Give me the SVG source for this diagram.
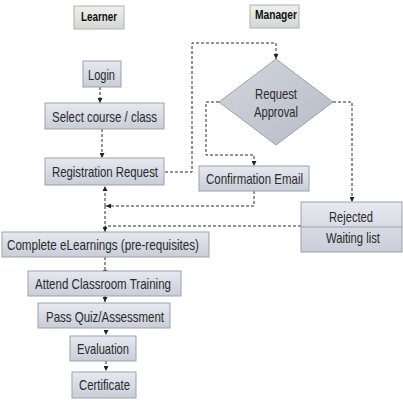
<svg xmlns="http://www.w3.org/2000/svg" width="403" height="403" viewBox="0 0 403 403">
<defs>
<linearGradient id="g" x1="0" y1="0" x2="0" y2="1">
<stop offset="0" stop-color="#e6e9ef"/>
<stop offset="1" stop-color="#c9cdd7"/>
</linearGradient>
<linearGradient id="gl" x1="0" y1="0" x2="0" y2="1">
<stop offset="0" stop-color="#eef0ee"/>
<stop offset="1" stop-color="#d3d7d3"/>
</linearGradient>
<linearGradient id="gd" x1="0" y1="0" x2="1" y2="1">
<stop offset="0" stop-color="#d2d6de"/>
<stop offset="1" stop-color="#b6bbc6"/>
</linearGradient>
<marker id="a" viewBox="0 0 6 6" refX="6" refY="3" markerWidth="5" markerHeight="5" orient="auto" markerUnits="userSpaceOnUse">
<path d="M0,0 L6,3 L0,6 Z" fill="#222"/>
</marker>
<style>
.b{fill:url(#g);stroke:#9ca1ad;stroke-width:1}
.l{fill:url(#gl);stroke:#aeb2ae;stroke-width:1}
.t{font-family:"Liberation Sans Narrow","Liberation Sans",Arial,sans-serif;font-size:15px;fill:#2a2a2a}
.h{font-family:"Liberation Sans Narrow","Liberation Sans",Arial,sans-serif;font-size:12.5px;font-weight:bold;fill:#111}
.c{fill:none;stroke:#2a2a2a;stroke-width:1;stroke-dasharray:3,2}
</style>
</defs>
<g id="connectors">
<path class="c" d="M100,87 V103" marker-end="url(#a)"/>
<path class="c" d="M102,129 V158" marker-end="url(#a)"/>
<path class="c" d="M165,172 H192 V43 H276 V59" marker-end="url(#a)"/>
<path class="c" d="M219,102 H206 V155 H254 V166" marker-end="url(#a)"/>
<path class="c" d="M333,102 H352 V202" marker-end="url(#a)"/>
<path class="c" d="M254,191 V206 H106" marker-end="url(#a)"/>
<path class="c" d="M301,226 H105"/>
<path class="c" d="M105,206 V186" marker-end="url(#a)"/>
<path class="c" d="M105,206 V232" marker-end="url(#a)"/>
<path class="c" d="M105,257 V275" marker-end="url(#a)"/>
<path class="c" d="M105,275 V302" marker-end="url(#a)"/>
<path class="c" d="M106,320 V335" marker-end="url(#a)"/>
<path class="c" d="M106,361 V371" marker-end="url(#a)"/>
</g>
<g id="learner"><rect class="l" x="74" y="6" width="50" height="23"/><text class="h" x="81" y="21" textLength="36" lengthAdjust="spacingAndGlyphs">Learner</text></g>
<g id="manager"><rect class="l" x="250" y="5" width="49" height="23"/><text class="h" x="255" y="19" textLength="42" lengthAdjust="spacingAndGlyphs">Manager</text></g>
<g id="login"><rect class="b" x="83" y="61" width="38" height="26"/><text class="t" x="88" y="80" textLength="27" lengthAdjust="spacingAndGlyphs">Login</text></g>
<g id="select"><rect class="b" x="45" y="103" width="119" height="26"/><text class="t" x="52" y="122" textLength="105" lengthAdjust="spacingAndGlyphs">Select course / class</text></g>
<g id="approval"><polygon points="276,59 333,102 276,145 219,102" fill="url(#gd)" stroke="#9ca1ad"/><text class="t" x="255" y="99" textLength="42" lengthAdjust="spacingAndGlyphs">Request</text><text class="t" x="254" y="117" textLength="44" lengthAdjust="spacingAndGlyphs">Approval</text></g>
<g id="registration"><rect class="b" x="45" y="158" width="119" height="27"/><text class="t" x="52" y="177" textLength="106" lengthAdjust="spacingAndGlyphs">Registration Request</text></g>
<g id="confirmation"><rect class="b" x="199" y="166" width="110" height="25"/><text class="t" x="206" y="184" textLength="97" lengthAdjust="spacingAndGlyphs">Confirmation Email</text></g>
<g id="rejected"><rect class="b" x="301" y="202" width="101" height="50"/><line x1="301" y1="227" x2="402" y2="227" stroke="#9ca1ad"/><text class="t" x="329" y="222" textLength="44" lengthAdjust="spacingAndGlyphs">Rejected</text><text class="t" x="326" y="243" textLength="54" lengthAdjust="spacingAndGlyphs">Waiting list</text></g>
<g id="elearnings"><rect class="b" x="2" y="232" width="207" height="25"/><text class="t" x="7" y="250" textLength="192" lengthAdjust="spacingAndGlyphs">Complete eLearnings (pre-requisites)</text></g>
<g id="classroom"><rect class="b" x="28" y="271" width="153" height="25"/><text class="t" x="35" y="289" textLength="136" lengthAdjust="spacingAndGlyphs">Attend Classroom Training</text></g>
<g id="quiz"><rect class="b" x="38" y="303" width="132" height="25"/><text class="t" x="46" y="322" textLength="118" lengthAdjust="spacingAndGlyphs">Pass Quiz/Assessment</text></g>
<g id="evaluation"><rect class="b" x="70" y="336" width="66" height="25"/><text class="t" x="77" y="354" textLength="52" lengthAdjust="spacingAndGlyphs">Evaluation</text></g>
<g id="certificate"><rect class="b" x="72" y="372" width="64" height="26"/><text class="t" x="79" y="390" textLength="51" lengthAdjust="spacingAndGlyphs">Certificate</text></g>
</svg>
